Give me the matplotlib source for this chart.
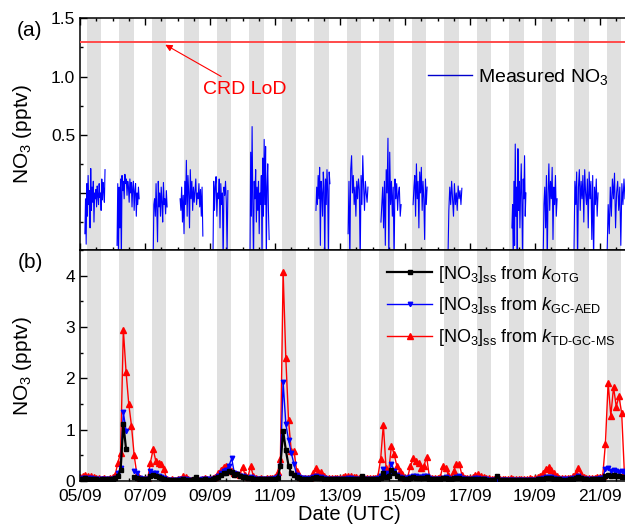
import numpy as np
from matplotlib import pyplot as plt
from matplotlib.ticker import MultipleLocator, FuncFormatter

plt.rcParams['font.family'] = 'Liberation Sans'
plt.rcParams['mathtext.fontset'] = 'custom'
plt.rcParams['mathtext.rm'] = 'Liberation Sans'
plt.rcParams['mathtext.it'] = 'Liberation Sans:italic'
plt.rcParams['mathtext.bf'] = 'Liberation Sans:bold'

nan = np.nan

# x axis: days since 05/09 00:00 UTC
date_labels = ['05/09', '07/09', '09/09', '11/09', '13/09', '15/09', '17/09', '19/09', '21/09']
n_days = 17
night_from, night_to = 0.2, 0.655
lod = 1.3

# measured NO3 (pptv), night-time segments: (start day, end day, values)
seg_start = [0.15, 1.14, 2.25, 3.08, 4.09, 5.23, 7.26, 8.25, 9.26, 10.25, 11.32, 13.29, 14.25, 15.2, 16.22]
seg_end = [0.77, 1.82, 2.68, 3.78, 4.55, 5.82, 7.69, 8.86, 9.88, 10.68, 11.75, 13.72, 14.68, 15.94, 16.77]
seg_values = [
    [-0.35, -0.05, -0.44, 0.08, -0.2, 0.15, -0.1, 0.02, -0.3, 0.21, -0.15, 0.05, -0.08, 0.1, -0.25, 0.0,
     -0.05, 0.03, -0.12, 0.06, -0.02, -0.1, 0.08, -0.04, 0.0, -0.15, 0.12, -0.06, 0.09, 0.02, -0.08, 0.2],
    [-0.45, 0.08, -0.6, 0.05, -0.3, 0.12, -0.6, 0.15, 0.02, 0.1, -0.05, 0.16, 0.08, 0.12, -0.02, 0.1,
     0.05, -0.08, 0.12, 0.0, 0.09, -0.12, 0.05, 0.1, -0.15, 0.02, 0.08, -0.2, 0.0, -0.1, 0.05, -0.05],
    [-0.6, -0.1, -0.05, -0.2, 0.08, -0.15, -0.42, 0.1, -0.12, 0.0, -0.2, 0.05, -0.08, -0.25, 0.09, -0.1,
     -0.05, -0.18, 0.02, -0.12],
    [-0.05, -0.15, 0.05, -0.25, -0.02, -0.35, 0.1, -0.1, 0.28, -0.2, 0.15, 0.0, -0.3, 0.2, -0.05, 0.1,
     -0.15, 0.05, -0.08, 0.02, 0.12, -0.1, 0.0, -0.05, 0.08, -0.12, 0.03, -0.2, 0.05, -0.37],
    [-0.6, 0.1, -0.15, 0.05, 0.14, -0.2, 0.0, -0.05, 0.12, -0.3, 0.08, -0.1, 0.0, -0.6, 0.05, -0.02,
     0.1, -0.08, -0.5, 0.02],
    [-0.6, 0.35, -0.2, 0.57, -0.1, -0.6, 0.1, -0.05, 0.2, -0.25, 0.05, -0.15, 0.1, -0.35, 0.0, -0.1,
     0.15, -0.6, 0.3, -0.2, 0.46, -0.1, 0.4, -0.6, 0.05, 0.25, -0.15, -0.4],
    [-0.15, 0.05, -0.1, 0.15, -0.05, 0.22, -0.45, 0.1, 0.0, -0.2, 0.18, 0.05, -0.6, 0.12, -0.1, 0.2,
     0.02, -0.6, 0.18, 0.08],
    [-0.35, 0.1, -0.6, 0.2, 0.32, 0.0, 0.15, -0.1, 0.05, -0.2, 0.1, -0.05, 0.12, 0.03, -0.6, 0.15,
     -0.1, 0.32, 0.05, -0.15, 0.1, 0.0, -0.08, 0.05],
    [-0.25, -0.1, 0.05, -0.3, 0.1, -0.45, 0.2, 0.0, 0.47, -0.6, 0.35, -0.1, 0.1, -0.2, 0.05, -0.6,
     0.12, -0.05, 0.08, -0.15, 0.0, 0.05, -0.2, -0.1],
    [-0.1, 0.05, 0.15, -0.2, 0.25, -0.05, 0.1, -0.3, 0.18, 0.0, 0.22, -0.15, 0.1, -0.05, -0.4, 0.12,
     -0.1, 0.05],
    [-0.6, -0.15, 0.05, -0.1, 0.1, -0.05, -0.2, 0.08, -0.1, 0.0, -0.15, 0.06, -0.05, 0.02, -0.1, 0.04],
    [-0.3, -0.1, -0.6, 0.1, -0.45, 0.42, -0.2, 0.05, -0.6, 0.38, -0.15, 0.1, -0.3, 0.0, 0.25, -0.1,
     -0.6, 0.12, -0.05, 0.32, -0.2, 0.0],
    [-0.6, -0.1, 0.05, -0.3, 0.15, -0.6, 0.0, 0.25, -0.15, 0.1, -0.05, 0.22, -0.4, 0.05, -0.1, 0.15,
     -0.2, -0.05],
    [-0.5, 0.1, -0.1, 0.18, -0.6, 0.05, 0.2, -0.15, 0.1, -0.05, 0.15, -0.25, 0.2, 0.0, -0.1, 0.12,
     -0.3, 0.18, -0.05, 0.1, -0.4, 0.15, -0.6, 0.05, -0.1, 0.12, -0.2, 0.0],
    [-0.5, -0.1, -0.35, 0.05, -0.2, 0.12, -0.05, 0.17, -0.3, 0.0, 0.1, -0.15, 0.05, -0.45, 0.08, -0.1,
     0.12, -0.05],
]

# steady-state NO3 (pptv), 2-hourly from 05/09 00:00, one row per day
ss_td_gc_ms = [
    0.07, 0.09, 0.11, 0.10, 0.09, 0.08, 0.06, 0.05, 0.04, 0.05, 0.04, 0.05,
    0.08, 0.12, 0.36, 0.55, 2.95, 2.13, 1.50, 1.08, 0.50, 0.13, 0.05, 0.04,
    0.03, 0.04, 0.36, 0.62, 0.39, 0.36, 0.33, 0.23, 0.03, 0.02, 0.03, 0.02,
    0.03, 0.04, 0.10, 0.07, 0.04, 0.02, 0.02, 0.03, 0.02, 0.04, 0.05, 0.04,
    0.04, 0.05, 0.08, 0.15, 0.22, 0.28, 0.30, 0.25, 0.20, 0.16, 0.14, 0.12,
    0.27, 0.12, 0.08, 0.29, 0.10, 0.05, 0.04, 0.05, 0.04, 0.05, 0.06, 0.05,
    0.07, 0.17, 0.43, 4.07, 2.39, 1.18, 0.59, 0.59, 0.20, 0.10, 0.06, 0.05,
    0.05, 0.06, 0.15, 0.25, 0.18, 0.17, 0.10, 0.05, 0.06, 0.05, 0.06, 0.05,
    0.06, 0.07, 0.10, 0.09, 0.10, 0.08, 0.07, 0.06, 0.05, 0.06, 0.05, 0.05,
    0.05, 0.06, 0.10, 0.42, 1.10, 0.26, 0.20, 0.69, 0.52, 0.29, 0.20, 0.13,
    0.06, 0.08, 0.29, 0.44, 0.39, 0.36, 0.25, 0.30, 0.47, 0.08, 0.06, 0.05,
    0.05, 0.07, 0.29, 0.26, 0.12, 0.07, 0.20, 0.33, 0.34, 0.12, 0.06, 0.05,
    0.05, 0.07, 0.12, 0.13, 0.10, 0.08, 0.06, 0.05, 0.04, 0.04, 0.03, 0.04,
    0.03, 0.04, 0.03, 0.05, 0.04, 0.03, 0.03, 0.04, 0.03, 0.04, 0.05, 0.04,
    0.06, 0.08, 0.10, 0.15, 0.23, 0.27, 0.22, 0.15, 0.10, 0.06, 0.05, 0.05,
    0.05, 0.06, 0.10, 0.15, 0.26, 0.13, 0.08, 0.06, 0.05, 0.05, 0.06, 0.07,
    0.08, 0.10, 0.73, 1.91, 1.27, 1.83, 1.45, 1.65, 1.32, 0.16,
]
ss_gc_aed = [
    0.04, 0.05, 0.06, 0.05, 0.05, 0.04, 0.03, 0.03, 0.03, 0.03, 0.03, 0.04,
    0.04, 0.06, 0.15, 0.25, 1.34, 0.98, nan, nan, 0.20, 0.16, 0.06, 0.04,
    0.03, 0.04, 0.20, 0.16, 0.15, 0.10, 0.07, 0.05, 0.02, 0.02, 0.02, 0.02,
    0.02, 0.03, 0.04, 0.03, 0.02, 0.02, 0.02, 0.02, 0.02, 0.03, 0.03, 0.03,
    0.03, 0.04, 0.06, 0.10, 0.15, 0.20, 0.22, 0.30, 0.44, 0.15, 0.14, 0.10,
    0.10, 0.08, 0.06, 0.07, 0.05, 0.03, 0.03, 0.03, 0.04, 0.03, 0.04, 0.04,
    0.05, 0.08, 0.30, 1.93, 1.11, 0.80, 0.55, 0.33, 0.12, 0.08, 0.06, 0.05,
    0.04, 0.05, 0.08, 0.10, 0.08, 0.07, 0.05, 0.04, 0.04, 0.03, 0.03, 0.03,
    0.03, 0.03, 0.04, 0.05, 0.05, 0.04, 0.04, 0.03, 0.03, 0.03, 0.03, 0.03,
    0.03, 0.04, 0.05, 0.10, 0.24, 0.15, 0.12, 0.33, 0.20, 0.12, 0.08, 0.06,
    0.05, 0.05, 0.08, 0.10, 0.10, 0.08, 0.07, 0.09, 0.10, 0.05, 0.04, 0.04,
    0.04, 0.04, 0.06, 0.07, 0.05, 0.04, 0.06, 0.08, 0.09, 0.06, 0.04, 0.04,
    0.04, 0.04, 0.05, 0.05, 0.04, 0.03, 0.03, 0.02, 0.02, 0.02, 0.02, 0.02,
    0.02, 0.01, 0.02, 0.01, 0.02, 0.01, 0.01, 0.02, 0.01, 0.02, 0.02, 0.02,
    0.02, 0.03, 0.04, 0.05, 0.07, 0.08, 0.07, 0.05, 0.04, 0.03, 0.03, 0.03,
    0.03, 0.03, 0.05, 0.06, 0.10, 0.06, 0.04, 0.03, 0.03, 0.03, 0.04, 0.04,
    0.05, 0.06, 0.23, 0.25, 0.20, 0.22, 0.19, 0.18, 0.20, 0.17,
]
ss_otg = [
    0.03, 0.04, 0.05, 0.04, 0.04, 0.03, 0.03, 0.02, 0.03, 0.02, 0.03, 0.03,
    0.04, 0.05, 0.10, 0.22, 1.12, 0.62, nan, nan, 0.08, 0.06, 0.04, 0.04,
    0.03, 0.04, 0.10, 0.12, 0.10, 0.08, 0.06, 0.04, 0.02, 0.02, 0.02, 0.02,
    0.02, 0.02, 0.03, 0.02, 0.02, 0.02, 0.03, 0.08, 0.02, 0.02, 0.03, 0.02,
    0.02, 0.03, 0.05, 0.08, 0.12, 0.15, 0.16, 0.20, 0.18, 0.12, 0.13, 0.10,
    0.08, 0.07, 0.05, 0.06, 0.04, 0.03, 0.03, 0.03, 0.03, 0.03, 0.04, 0.03,
    0.04, 0.06, 0.30, 0.98, 0.60, 0.30, 0.15, 0.12, 0.08, 0.06, 0.04, 0.04,
    0.03, 0.04, 0.06, 0.08, 0.05, 0.05, 0.04, 0.03, 0.03, 0.03, 0.03, 0.03,
    0.03, 0.03, 0.04, 0.04, 0.04, 0.03, 0.03, 0.03, 0.10, 0.03, 0.03, 0.03,
    0.03, 0.03, 0.04, 0.06, 0.15, 0.08, 0.10, 0.21, 0.15, 0.10, 0.06, 0.05,
    0.04, 0.04, 0.06, 0.07, 0.06, 0.05, 0.05, 0.06, 0.07, 0.04, 0.03, 0.03,
    0.03, 0.03, 0.05, 0.05, 0.04, 0.03, 0.05, 0.06, 0.06, 0.04, 0.03, 0.03,
    0.03, 0.03, 0.04, 0.04, 0.03, 0.03, 0.02, 0.02, 0.02, 0.02, 0.10, 0.02,
    0.02, 0.02, 0.02, 0.02, 0.02, 0.02, 0.02, 0.02, 0.02, 0.02, 0.02, 0.02,
    0.02, 0.03, 0.03, 0.04, 0.05, 0.06, 0.05, 0.04, 0.03, 0.03, 0.02, 0.02,
    0.02, 0.03, 0.04, 0.05, 0.07, 0.05, 0.03, 0.03, 0.02, 0.03, 0.03, 0.03,
    0.03, 0.04, 0.10, 0.12, 0.10, 0.11, 0.09, 0.10, 0.08, 0.07,
]
t_ss = np.arange(len(ss_otg)) / 12.0

fig = plt.figure(figsize=(6.25, 5.28), dpi=100)
x0, x1 = 80 / 625, 1.02
ax1 = fig.add_axes([x0, 1 - 250 / 528, x1 - x0, (250 - 18.3) / 528])
ax2 = fig.add_axes([x0, 1 - 481 / 528, x1 - x0, (481 - 250) / 528], sharex=ax1)
xmax = (x1 * 625 - 80) / 32.5

for ax in (ax1, ax2):
    for d in range(n_days + 1):
        ax.axvspan(d + night_from, d + night_to, color='#e0e0e0', lw=0, zorder=0)
    ax.set_xlim(0, xmax)
    ax.xaxis.set_major_locator(MultipleLocator(2))
    ax.xaxis.set_minor_locator(MultipleLocator(0.5))
    ax.tick_params(which='both', direction='in', width=1, labelsize=12.5)
    ax.tick_params(which='major', length=5)
    ax.tick_params(which='minor', length=2.5)
    for s in ax.spines.values():
        s.set_linewidth(1.1)

# (a) measured
for s0, s1, v in zip(seg_start, seg_end, seg_values):
    ax1.plot(np.linspace(s0, s1, len(v)), v, color='#0000ff', lw=0.8, zorder=2)
ax1.plot([], [], color='#0000cc', lw=1, label='Measured NO$_3$')
ax1.axhline(lod, color='#ff4a4a', lw=1.4, zorder=3)
ax1.annotate('CRD LoD', xy=(2.55, 1.285), xytext=(3.78, 0.886), color='#ff0000',
             fontsize=14, ha='left', va='center',
             arrowprops=dict(arrowstyle='-|>', color='#ff0000', lw=0.8, mutation_scale=10, shrinkA=3))
ax1.set_ylim(-0.49, 1.5)
ax1.yaxis.set_major_locator(MultipleLocator(0.5))
ax1.yaxis.set_minor_locator(MultipleLocator(0.25))
ax1.yaxis.set_major_formatter(FuncFormatter(lambda v, p: '%.1f' % v if v > 0.25 else ''))
ax1.tick_params(which='both', top=True, right=True, labelbottom=False)
ax1.legend(loc='center left', bbox_to_anchor=(0.592, 0.747), frameon=False, fontsize=14,
           handlelength=2.3, handletextpad=0.3)
ax1.set_ylabel('NO$_3$ (pptv)', fontsize=15)
fig.text(30 / 625, 1 - 31 / 528, '(a)', fontsize=15, ha='center', va='center')

# (b) steady state
ax2.plot(t_ss, ss_td_gc_ms, color='#ff0000', lw=1, marker='^', ms=5, zorder=2,
         label=r'[NO$_3$]$_{\rm ss}$ from $k_{\rm TD\text{-}GC\text{-}MS}$')
ax2.plot(t_ss, ss_gc_aed, color='#0000ff', lw=1, marker='v', ms=3.2, zorder=3,
         label=r'[NO$_3$]$_{\rm ss}$ from $k_{\rm GC\text{-}AED}$')
ax2.plot(t_ss, ss_otg, color='#000000', lw=1.6, marker='s', ms=2.3, zorder=4,
         label=r'[NO$_3$]$_{\rm ss}$ from $k_{\rm OTG}$')
ax2.set_ylim(0, 4.5)
ax2.yaxis.set_major_locator(MultipleLocator(1))
ax2.yaxis.set_minor_locator(MultipleLocator(0.5))
ax2.set_xticks(range(0, 2 * len(date_labels), 2))
ax2.set_xticklabels(date_labels)
ax2.tick_params(which='both', top=False, right=True)
ax2.tick_params(axis='x', pad=6)
h, l = ax2.get_legend_handles_labels()
ax2.legend(h[::-1], l[::-1], loc='upper left', bbox_to_anchor=(0.535, 0.98), frameon=False,
           fontsize=13, handlelength=2.5, handletextpad=0.3, numpoints=1, labelspacing=0.6,
           borderpad=0)
ax2.set_ylabel('NO$_3$ (pptv)', fontsize=15)
ax2.set_xlabel('Date (UTC)', fontsize=14.5)
ax2.xaxis.set_label_coords((349 - 80) / 557.5, -0.105)
fig.text(30 / 625, 1 - 263 / 528, '(b)', fontsize=15, ha='center', va='center')

ax1.yaxis.set_label_coords(-0.083, 0.5)
ax2.yaxis.set_label_coords(-0.083, 0.5)

fig.savefig('out.png', dpi=100)
